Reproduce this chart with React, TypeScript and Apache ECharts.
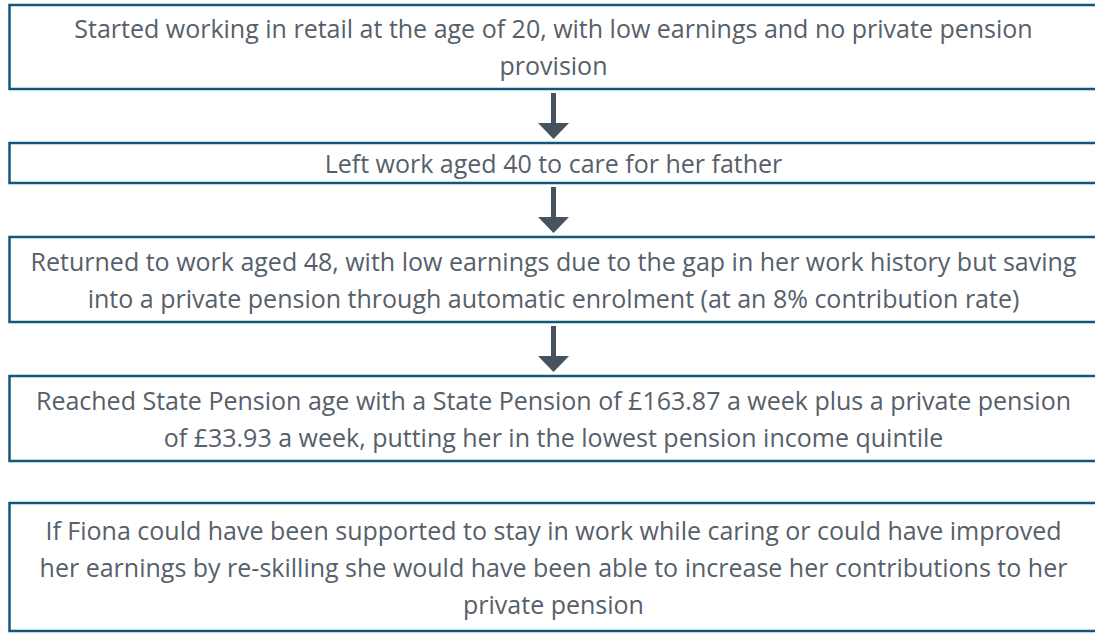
import React, { useEffect, useRef } from "react";
import * as echarts from "echarts";

const steps: string[] = [
  "Started working in retail at the age of 20, with low earnings and no private pension\nprovision",
  "Left work aged 40 to care for her father",
  "Returned to work aged 48, with low earnings due to the gap in her work history but saving\ninto a private pension through automatic enrolment (at an 8% contribution rate)",
  "Reached State Pension age with a State Pension of £163.87 a week plus a private pension\nof £33.93 a week, putting her in the lowest pension income quintile",
  "If Fiona could have been supported to stay in work while caring or could have improved\nher earnings by re-skilling she would have been able to increase her contributions to her\nprivate pension",
];
const boxTops: number[] = [5, 143, 237, 376, 503];
const boxBottoms: number[] = [89, 183, 322, 461, 631];
const hasArrowAfter: boolean[] = [true, true, true, false, false];

const BORDER = "#12587a";
const TEXT = "#56606a";
const ARROW = "#46525d";

export default function App() {
  const ref = useRef<HTMLDivElement>(null);
  useEffect(() => {
    if (!ref.current) return;
    const chart = echarts.init(ref.current, undefined, { renderer: "svg" });
    const left = 9.5;
    const right = 1098;
    const cx = 553.5;
    const elements: any[] = [];
    steps.forEach((t, i) => {
      const top = boxTops[i];
      const bottom = boxBottoms[i];
      elements.push({
        type: "rect",
        shape: { x: left, y: top, width: right - left, height: bottom - top },
        style: { fill: "#ffffff", stroke: BORDER, lineWidth: 2.5 },
      });
      elements.push({
        type: "text",
        x: cx,
        y: (top + bottom) / 2 - 0.5,
        style: {
          text: t,
          fill: TEXT,
          font: "25px 'Open Sans'",
          lineHeight: 37,
          align: "center",
          verticalAlign: "middle",
        },
      });
      if (hasArrowAfter[i]) {
        const y0 = bottom + 4;
        const y1 = boxTops[i + 1] - 4;
        const headTop = y1 - 16;
        elements.push({
          type: "rect",
          shape: { x: cx - 2.5, y: y0, width: 5, height: headTop - y0 + 1 },
          style: { fill: ARROW },
        });
        elements.push({
          type: "polygon",
          shape: {
            points: [
              [cx - 15.5, headTop],
              [cx + 15.5, headTop],
              [cx, y1],
            ],
          },
          style: { fill: ARROW },
        });
      }
    });
    chart.setOption({ animation: false, graphic: { elements } });
    return () => chart.dispose();
  }, []);
  return (
    <div
      ref={ref}
      style={{ position: "fixed", left: 0, top: 0, width: 1095, height: 633, background: "#fff" }}
    />
  );
}
